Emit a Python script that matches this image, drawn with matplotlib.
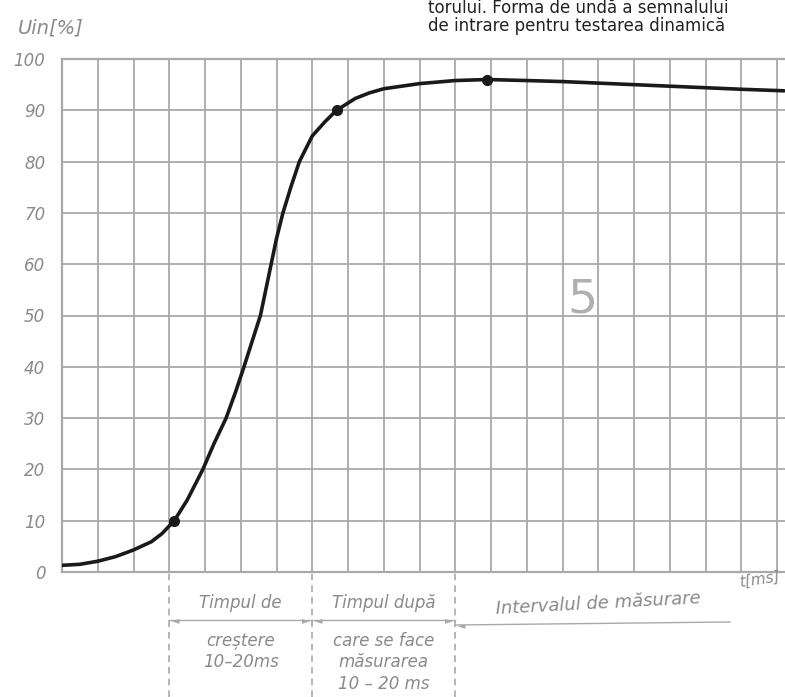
import numpy as np
import matplotlib.pyplot as plt

# values (x in grid cells, y in %)
t_cells = [0, 0.5, 1, 1.5, 2, 2.5, 2.8, 3.14, 3.5, 3.94, 4.25, 4.59, 4.85, 5.09,
           5.32, 5.55, 5.7, 5.85, 6.0, 6.18, 6.4, 6.64, 7.0, 7.36, 7.68, 8.2, 8.6,
           9, 10, 11, 11.9, 13, 14, 15, 16, 17, 18, 19, 20.2]
u_in = [1.3, 1.5, 2.1, 3.0, 4.3, 5.9, 7.5, 10, 14, 20, 25, 30, 35, 40,
        45, 50, 55, 60, 65, 70, 75, 80, 85, 87.8, 90, 92.3, 93.4,
        94.2, 95.2, 95.8, 96, 95.8, 95.6, 95.3, 95.0, 94.7, 94.4, 94.1, 93.8]
marked_t = [3.14, 7.68, 11.9]
marked_u = [10, 90, 96]
y_ticks = [0, 10, 20, 30, 40, 50, 60, 70, 80, 90, 100]
y_labels = ['0', '10', '20', '30', '40', '50', '60', '70', '80', '90', '100']
phase_edges = [3, 7, 11]

grid_col = '#a9a9a9'
text_col = '#8a8a8a'

fig = plt.figure(figsize=(7.85, 6.97), dpi=100)
ax = fig.add_axes([62 / 785, 125 / 697, 723 / 785, 513 / 697])

ax.plot(t_cells, u_in, color='#1a1a1a', lw=2.6, solid_capstyle='round',
        solid_joinstyle='round', zorder=3)
ax.plot(marked_t, marked_u, 'o', color='#1a1a1a', ms=7, zorder=4)

ax.set_xlim(0, 723 / 35.75)
ax.set_ylim(0, 100)
ax.set_xticks(np.arange(0, 21))
ax.set_xticklabels([])
ax.set_yticks(y_ticks)
ax.set_yticklabels(y_labels, fontstyle='italic', fontsize=12, color=text_col)
ax.tick_params(length=0, pad=12)
ax.grid(True, color=grid_col, lw=1.3)
for s in ax.spines.values():
    s.set_color(grid_col)
    s.set_linewidth(1.6)
ax.spines['right'].set_visible(False)

# big "5" in the middle of the grid
ax.text(14.55, 53, '5', fontsize=34, color='#b0b0b0', ha='center', va='center')

# axis names
fig.text(18 / 785, 1 - 28 / 697, 'Uin[%]', fontsize=14, fontstyle='italic',
         color=text_col, va='center')
fig.text(738 / 785, 1 - 580 / 697, 't[ms]', fontsize=11, fontstyle='italic',
         color=text_col, va='center', rotation=8)

# page text at the top
fig.text(428 / 785, 1 - 8 / 697, 'torului. Forma de undă a semnalului', fontsize=12,
         color='#222222', va='center')
fig.text(428 / 785, 1 - 26 / 697, 'de intrare pentru testarea dinamică', fontsize=12,
         color='#222222', va='center')

# phase separators and arrows below the axis
to_fig = lambda k: (62 + k * 35.75) / 785
for k in phase_edges:
    fig.add_artist(plt.Line2D([to_fig(k), to_fig(k)], [0, 125 / 697],
                              color=grid_col, lw=1.2, ls=(0, (4, 3))))
arrow_y = 1 - 620 / 697
for a, b in [(3, 7), (7, 11)]:
    fig.add_artist(plt.Line2D([to_fig(a), to_fig(b)], [arrow_y, arrow_y],
                              color=grid_col, lw=1.0))
    fig.text(to_fig(a) + 0.003, arrow_y, '◄', fontsize=7, color=grid_col, va='center')
    fig.text(to_fig(b) - 0.003, arrow_y, '►', fontsize=7, color=grid_col, va='center',
             ha='right')
fig.add_artist(plt.Line2D([to_fig(11), 730 / 785], [1 - 625 / 697, 1 - 622 / 697],
                          color=grid_col, lw=1.0))
fig.text(to_fig(11) + 0.003, 1 - 625 / 697, '◄', fontsize=7, color=grid_col, va='center')

lab = dict(fontsize=12, fontstyle='italic', color=text_col, ha='center', va='center')
c1 = (to_fig(3) + to_fig(7)) / 2
c2 = (to_fig(7) + to_fig(11)) / 2
fig.text(c1, 1 - 603 / 697, 'Timpul de', **lab)
fig.text(c1, 1 - 641 / 697, 'creștere', **lab)
fig.text(c1, 1 - 662 / 697, '10–20ms', **lab)
fig.text(c2, 1 - 603 / 697, 'Timpul după', **lab)
fig.text(c2, 1 - 641 / 697, 'care se face', **lab)
fig.text(c2, 1 - 662 / 697, 'măsurarea', **lab)
fig.text(c2, 1 - 684 / 697, '10 – 20 ms', **lab)
fig.text(598 / 785, 1 - 604 / 697, 'Intervalul de măsurare', fontsize=13,
         fontstyle='italic', color=text_col, ha='center', va='center', rotation=3)

fig.savefig('out.png', dpi=100)
